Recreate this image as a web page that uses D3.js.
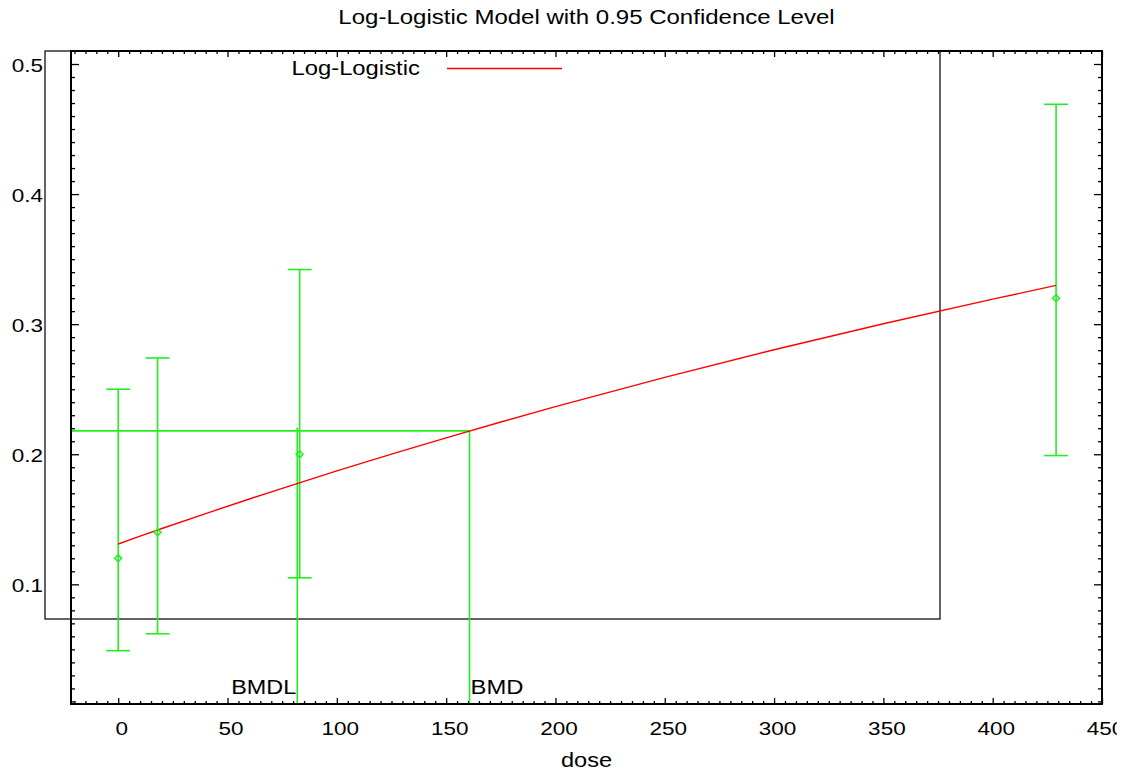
<!DOCTYPE html>
<html><head><meta charset="utf-8">
<script src="https://cdn.jsdelivr.net/npm/d3@7/dist/d3.min.js"></script>
<style>
body{margin:0;background:#fff}
text{font-family:"Liberation Sans",Arial,sans-serif;fill:#000}
</style>
</head><body>
<svg id="chart" width="1129" height="772"></svg>
<script>
// ---- data ----
const doses = [0, 18, 83, 429];
const means = [0.12, 0.14, 0.20, 0.32];
const lowerCI = [0.049, 0.062, 0.105, 0.199];
const upperCI = [0.250, 0.274, 0.342, 0.469];
const curveDose = [0, 10, 20, 40, 60, 80, 100, 125, 150, 175, 200, 250, 300, 350, 400, 429];
const curveResp = [0.1310, 0.1370, 0.1429, 0.1544, 0.1656, 0.1765, 0.1872, 0.2001, 0.2126, 0.2248, 0.2366, 0.2591, 0.2803, 0.3003, 0.3192, 0.3298];
const bmdValues = [160.7];          // BMD
const bmdlValues = [81.9];          // BMDL
const bmrLevel = [0.218];           // response at BMD
const bmdlTop = [0.2205];           // top of the BMDL marker line
const xTickLabels = [0, 50, 100, 150, 200, 250, 300, 350, 400, 450];
const yTickLabels = [0.1, 0.2, 0.3, 0.4, 0.5];
const titleText = "Log-Logistic Model with 0.95 Confidence Level";
const xLabel = "dose";
const legendLabel = "Log-Logistic";

// ---- layout ----
const L = 71, R = 1102, T = 51, B = 704;
const svg = d3.select("#chart");
const x = d3.scaleLinear().domain([-21.6, 450]).range([L, R]);
const y = d3.scaleLinear().domain([0.008, 0.51]).range([B, T]);
const green = "#22ee22";

svg.append("defs").append("clipPath").attr("id", "pageclip")
  .append("rect").attr("x", 0).attr("y", 0).attr("width", 1117).attr("height", 772);

function stretch(sel, f) {
  sel.each(function () {
    const w = this.getComputedTextLength();
    this.setAttribute("textLength", w * f);
    this.setAttribute("lengthAdjust", "spacingAndGlyphs");
  });
}

// legend box (behind everything)
svg.append("rect").attr("x", 45).attr("y", T).attr("width", 940 - 45).attr("height", 619 - T)
  .attr("fill", "none").attr("stroke", "#111").attr("stroke-width", 1.3);

// minor tick positions
const xMinor = d3.range(-20, 451, 5).filter(v => v % 50 !== 0);
const yMinor = d3.range(1, 51).map(v => v / 100).filter(v => Math.round(v * 100) % 10 !== 0);

function axisStyle(g) {
  g.select(".domain").remove();
  g.selectAll(".tick line").attr("stroke", "#000").attr("stroke-width", 1.3);
}

// bottom axis
svg.append("g").attr("transform", `translate(0,${B})`)
  .call(d3.axisBottom(x).tickValues(xMinor).tickSize(-3).tickFormat(""))
  .call(axisStyle);
const xAx = svg.append("g").attr("clip-path", "url(#pageclip)")
  .append("g").attr("transform", `translate(0,${B})`)
  .call(d3.axisBottom(x).tickValues(xTickLabels).tickSize(-6).tickPadding(18).tickFormat(d3.format("d")))
  .call(axisStyle);
xAx.selectAll("text").attr("font-size", 18).attr("dx", 3).attr("fill", "#000")
  .style("font-family", '"Liberation Sans",Arial,sans-serif').call(stretch, 1.25);

// top axis
svg.append("g").attr("transform", `translate(0,${T})`)
  .call(d3.axisTop(x).tickValues(xMinor).tickSize(-3).tickFormat(""))
  .call(axisStyle);
svg.append("g").attr("transform", `translate(0,${T})`)
  .call(d3.axisTop(x).tickValues(xTickLabels).tickSize(-6).tickFormat(""))
  .call(axisStyle);

// left axis
svg.append("g").attr("transform", `translate(${L},0)`)
  .call(d3.axisLeft(y).tickValues(yMinor).tickSize(-4).tickFormat(""))
  .call(axisStyle);
const yAx = svg.append("g").attr("transform", `translate(${L},0)`)
  .call(d3.axisLeft(y).tickValues(yTickLabels).tickSize(-8).tickPadding(28).tickFormat(d3.format(".1f")))
  .call(axisStyle);
yAx.selectAll("text").attr("font-size", 18).attr("dy", "0.42em").attr("fill", "#000")
  .style("font-family", '"Liberation Sans",Arial,sans-serif').call(stretch, 1.25);

// right axis
svg.append("g").attr("transform", `translate(${R},0)`)
  .call(d3.axisRight(y).tickValues(yMinor).tickSize(-4).tickFormat(""))
  .call(axisStyle);
svg.append("g").attr("transform", `translate(${R},0)`)
  .call(d3.axisRight(y).tickValues(yTickLabels).tickSize(-8).tickFormat(""))
  .call(axisStyle);

// BMD / BMDL markers
const g = svg.append("g").attr("stroke", green).attr("stroke-width", 1.6).attr("fill", "none");
g.append("line").attr("x1", L).attr("x2", x(bmdValues[0])).attr("y1", y(bmrLevel[0])).attr("y2", y(bmrLevel[0]));
g.append("line").attr("x1", x(bmdValues[0])).attr("x2", x(bmdValues[0])).attr("y1", y(bmrLevel[0])).attr("y2", B);
g.append("line").attr("x1", x(bmdlValues[0])).attr("x2", x(bmdlValues[0])).attr("y1", y(bmdlTop[0])).attr("y2", B);

// error bars
const idx = d3.range(doses.length);
g.selectAll(".eb").data(idx).join("line")
  .attr("x1", i => x(doses[i])).attr("x2", i => x(doses[i]))
  .attr("y1", i => y(lowerCI[i])).attr("y2", i => y(upperCI[i]));
g.selectAll(".capU").data(idx).join("line")
  .attr("x1", i => x(doses[i]) - 12).attr("x2", i => x(doses[i]) + 12)
  .attr("y1", i => y(upperCI[i])).attr("y2", i => y(upperCI[i]));
g.selectAll(".capL").data(idx).join("line")
  .attr("x1", i => x(doses[i]) - 12).attr("x2", i => x(doses[i]) + 12)
  .attr("y1", i => y(lowerCI[i])).attr("y2", i => y(lowerCI[i]));

// model curve
svg.append("path")
  .attr("d", d3.line().x((d, i) => x(curveDose[i])).y((d, i) => y(curveResp[i])).curve(d3.curveMonotoneX)(curveDose))
  .attr("fill", "none").attr("stroke", "#ff0000").attr("stroke-width", 1.4);

// diamonds
const diamond = d3.symbol().type(d3.symbolSquare).size(24);
svg.append("g").selectAll("path").data(idx).join("path")
  .attr("d", diamond)
  .attr("transform", i => `translate(${x(doses[i])},${y(means[i])}) rotate(45)`)
  .attr("fill", "none").attr("stroke", green).attr("stroke-width", 1.5);

// frame
svg.append("rect").attr("x", L).attr("y", T).attr("width", R - L).attr("height", B - T)
  .attr("fill", "none").attr("stroke", "#000").attr("stroke-width", 2);

// texts
svg.append("text").attr("x", x(bmdlValues[0]) - 1).attr("y", 694).attr("text-anchor", "end")
  .attr("font-size", 20).text("BMDL").call(stretch, 1.17);
svg.append("text").attr("x", x(bmdValues[0]) + 1).attr("y", 694)
  .attr("font-size", 20).text("BMD").call(stretch, 1.19);

svg.append("text").attr("x", (L + R) / 2).attr("y", 24).attr("text-anchor", "middle")
  .attr("font-size", 20).text(titleText).call(stretch, 1.2);
svg.append("text").attr("x", (L + R) / 2).attr("y", 767).attr("text-anchor", "middle")
  .attr("font-size", 20).text(xLabel).call(stretch, 1.18);

// legend entry
svg.append("text").attr("x", 291.5).attr("y", 75).attr("font-size", 20).text(legendLabel).call(stretch, 1.19);
svg.append("line").attr("x1", 447).attr("x2", 562).attr("y1", 68.5).attr("y2", 68.5)
  .attr("stroke", "#ff0000").attr("stroke-width", 1.4);
</script>
</body></html>
